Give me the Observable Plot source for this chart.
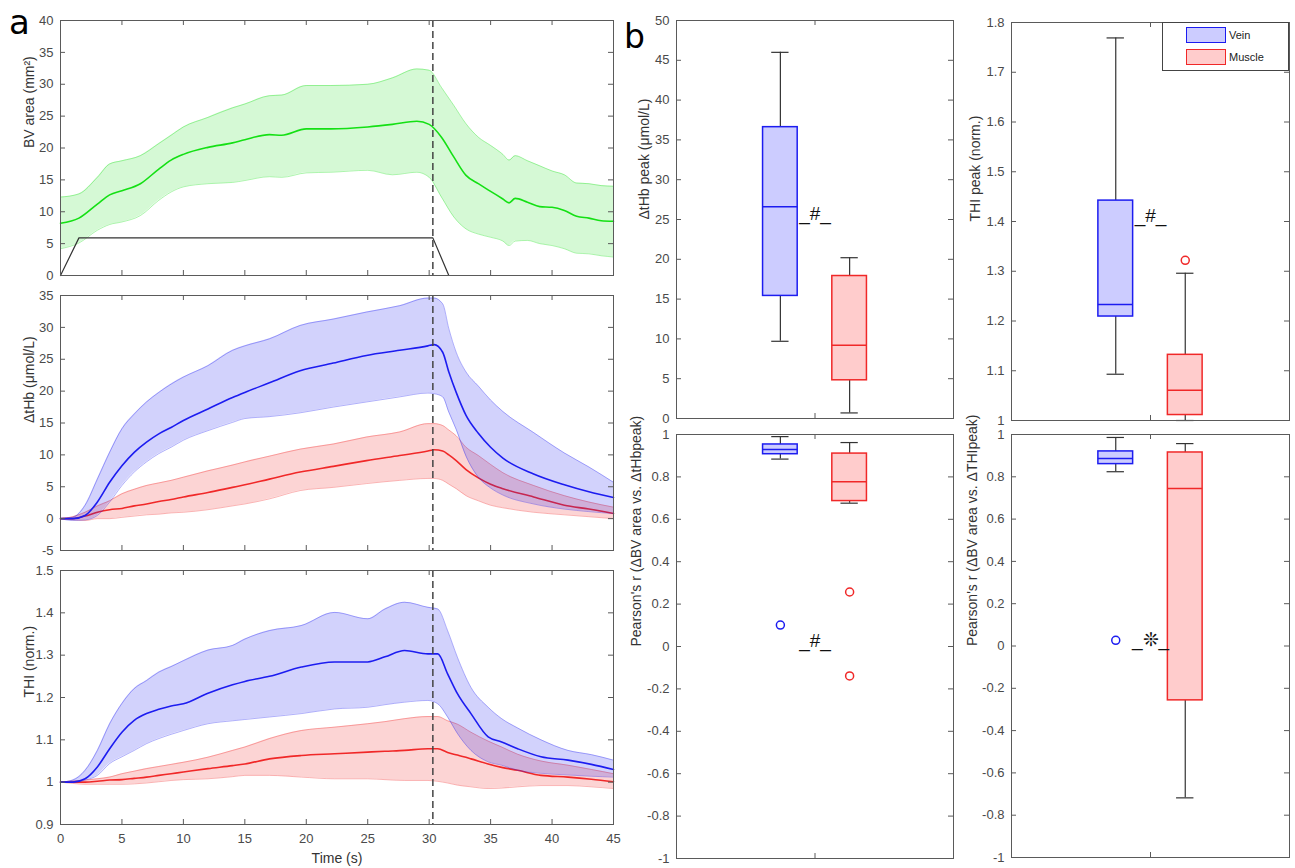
<!DOCTYPE html>
<html><head><meta charset="utf-8">
<script src="https://cdn.jsdelivr.net/npm/d3@7"></script>
<script src="https://cdn.jsdelivr.net/npm/@observablehq/plot@0.6"></script>
<style>
body{margin:0;background:#fff;}
#root{position:relative;width:1295px;height:868px;overflow:hidden;background:#fff;font-family:"Liberation Sans",Arial,sans-serif;}
.p{position:absolute;}
.letter{position:absolute;font-family:"DejaVu Sans",sans-serif;line-height:normal;color:#000;}
</style></head><body><div id="root"></div>
<script>
// ---------------- DATA ----------------
// Panel a, top: BV area (mm^2)
const tBV = [0,1.5,3,4,5,6.5,8,9,10,12,14,15,17,18,20,22,25,27,29,30,31,32,33,34,35,36,36.5,37,38,39,40,41,42,43,44,45];
const bvMean = [8.2,9.0,11.2,12.65,13.3,14.4,16.7,18.1,19.0,20.1,20.8,21.3,22.1,22.0,23.0,23.0,23.3,23.7,24.2,23.7,21.7,18.6,15.7,14.4,13.2,12.0,11.4,12.1,11.5,10.8,10.7,10.2,9.3,9.0,8.6,8.5];
const bvHi = [12.3,12.8,15.4,17.5,18.0,18.8,20.7,22.0,23.3,24.8,26.3,26.9,28.2,28.3,29.8,29.8,30.0,31.0,32.4,32.2,29.5,26.7,23.8,21.7,20.4,19.0,18.1,18.8,18.0,17.2,16.4,15.8,14.5,14.4,14.1,14.0];
const bvLo = [4.2,5.1,7.1,8.0,8.4,9.4,11.8,13.1,13.9,14.4,14.6,14.9,15.5,15.4,16.1,16.2,16.5,15.8,16.2,15.4,12.3,9.2,7.3,6.5,6.0,5.4,4.7,5.4,5.5,5.0,4.7,4.2,3.5,3.4,3.1,2.9];
const stimT = [0,1.5,30.3,31.6];
const stimV = [0,5.9,5.9,0];
const stopTime = 30.3;

// Panel a, middle: ΔtHb (µmol/L)
const tH = [0,1,2,3,4,5,6,7,8,9,10,12,14,15,17,19.5,22.2,24.9,27.6,29.9,30.4,31.1,31.6,32.2,33,34,35,36,38.5,41,43,45];
const veinTHbMean = [0,0,0.5,2.6,5.7,8.3,10.4,12.0,13.3,14.3,15.4,17.2,19.0,19.8,21.3,23.2,24.4,25.6,26.4,27.1,27.3,26.1,23.0,19.8,16.2,13.4,11.2,9.5,7.0,5.3,4.2,3.3];
const veinTHbHi = [0,0.2,2.1,6.2,10.4,14.1,16.4,18.3,19.8,21.1,22.2,24.0,26.4,27.1,28.2,30.3,31.3,32.4,33.4,34.6,34.6,33.7,29.8,26.1,23.0,20.8,18.6,16.8,13.5,10.3,8.1,5.7];
const veinTHbLo = [0,-0.3,-0.2,0.5,2.6,5.2,7.3,8.9,10.2,11.2,12.3,13.8,15.1,15.7,16.0,16.6,17.5,18.3,19.1,19.7,19.6,19.1,16.7,14.0,9.8,6.5,4.8,3.7,2.3,1.5,1.1,0.8];
const muscleTHbMean = [0,0,0.4,1.0,1.4,1.6,2.0,2.3,2.7,3.0,3.4,4.1,4.9,5.3,6.2,7.3,8.2,9.1,9.9,10.6,10.8,10.6,10.0,9.1,7.7,6.4,5.4,4.7,3.4,2.1,1.5,0.8];
const muscleTHbHi = [0,0.3,1.0,2.0,2.8,3.9,4.6,5.2,5.6,6.0,6.5,7.5,8.4,8.9,9.8,10.9,11.7,12.8,13.6,14.9,14.9,14.6,13.9,13.0,11.2,9.9,8.5,7.2,5.2,3.6,2.6,1.8];
const muscleTHbLo = [0,-0.2,-0.3,0,0,0.2,0.4,0.6,0.7,0.9,1.0,1.4,2.0,2.3,3.1,4.4,4.9,5.5,6.0,6.3,6.3,6.0,5.4,4.7,3.6,2.8,2.1,1.7,1.0,0.6,0.3,0.0];

// Panel a, bottom: THI (norm.)
const tT = [0,1,2,3,4,5,6,7,8,9,10,12,14,15,17,19.6,22.3,25,26.4,28,29.9,30.7,31.5,32.3,33.4,34.8,35.9,37.2,39.1,41.3,43.2,45];
const veinTHIMean = [1.0,1.0,1.008,1.036,1.079,1.118,1.146,1.162,1.172,1.180,1.185,1.210,1.230,1.238,1.250,1.272,1.284,1.284,1.296,1.311,1.303,1.303,1.256,1.209,1.162,1.107,1.095,1.079,1.060,1.052,1.042,1.030];
const veinTHIHi = [1.0,1.005,1.028,1.075,1.138,1.186,1.221,1.240,1.260,1.273,1.287,1.312,1.323,1.338,1.358,1.370,1.401,1.386,1.409,1.425,1.413,1.409,1.358,1.295,1.224,1.177,1.150,1.128,1.100,1.075,1.065,1.052];
const veinTHILo = [1.0,1.0,1.005,1.016,1.044,1.060,1.075,1.091,1.103,1.113,1.122,1.138,1.145,1.148,1.154,1.162,1.173,1.177,1.183,1.189,1.193,1.185,1.154,1.115,1.075,1.048,1.040,1.028,1.021,1.017,1.014,1.012];
const muscleTHIMean = [1.0,1.0,1.0,1.002,1.005,1.006,1.009,1.012,1.016,1.020,1.024,1.032,1.039,1.043,1.055,1.063,1.067,1.071,1.073,1.075,1.079,1.079,1.070,1.064,1.055,1.043,1.035,1.028,1.016,1.012,1.007,1.001];
const muscleTHIHi = [1.0,1.003,1.005,1.008,1.012,1.020,1.026,1.032,1.037,1.042,1.047,1.059,1.075,1.083,1.103,1.122,1.130,1.138,1.143,1.150,1.155,1.155,1.145,1.137,1.118,1.097,1.083,1.066,1.050,1.040,1.030,1.020];
const muscleTHILo = [1.0,0.997,0.995,0.995,0.995,0.995,0.996,0.998,1.001,1.004,1.006,1.008,1.013,1.016,1.016,1.012,1.008,1.008,1.006,1.004,1.004,1.002,0.998,0.993,0.989,0.985,0.986,0.989,0.992,0.992,0.989,0.985];

// Panel b: box plots (Vein, Muscle)
const groups = ["Vein","Muscle"];
const thbPeakLo = [9.7,0.7], thbPeakQ1 = [15.4,4.8], thbPeakMed = [26.6,9.2], thbPeakQ3 = [36.6,17.9], thbPeakHi = [46.0,20.2];
const thbPeakOutGroup = [], thbPeakOutVal = [];
const thiPeakLo = [1.093,1.0], thiPeakQ1 = [1.209,1.011], thiPeakMed = [1.233,1.061], thiPeakQ3 = [1.442,1.132], thiPeakHi = [1.769,1.296];
const thiPeakOutGroup = ["Muscle"], thiPeakOutVal = [1.322];
const rThbLo = [0.884,0.676], rThbQ1 = [0.907,0.686], rThbMed = [0.929,0.777], rThbQ3 = [0.953,0.910], rThbHi = [0.990,0.962];
const rThbOutGroup = ["Vein","Muscle","Muscle"], rThbOutVal = [0.101,0.257,-0.139];
const rThiLo = [0.824,-0.718], rThiQ1 = [0.860,-0.257], rThiMed = [0.887,0.745], rThiQ3 = [0.920,0.915], rThiHi = [0.986,0.957];
const rThiOutGroup = ["Vein"], rThiOutVal = [0.027];
const sigMarks = ["_#_","_#_","_#_","_\u274A_"];
const sigLevels = [25, 1.4, 0, 0];

// tick labels
const timeTicks = d3.range(0, 46, 5);
const bvTicks = d3.range(0, 41, 5);
const thbTicks = d3.range(-5, 36, 5);
const thiTicks = [0.9,1.0,1.1,1.2,1.3,1.4,1.5];
const thbPeakTicks = d3.range(0, 51, 5);
const thiPeakTicks = [1.0,1.1,1.2,1.3,1.4,1.5,1.6,1.7,1.8];
const rTicks = [-1,-0.8,-0.6,-0.4,-0.2,0,0.2,0.4,0.6,0.8,1];

// ---------------- STYLE ----------------
const FONT = '"Liberation Sans", Arial, sans-serif';
const AX = "#5a5a5a";
const GREEN = "#14e014", BLUE = "#1c1cf0", RED = "#f02828";
const boxStroke = [BLUE, RED];
const boxFill = ["#ccccff", "#ffcccc"];
const fmt = d => String(+(+d).toFixed(3));
const root = document.getElementById("root");

function place(el, left, top) {
  const d = document.createElement("div");
  d.className = "p"; d.style.left = left + "px"; d.style.top = top + "px";
  d.appendChild(el); root.appendChild(d);
}
function inwardTicks(xt, yt, fw, fh, len = 5) {
  const st = {stroke: AX, strokeWidth: 1};
  const m = [];
  if (yt) {
    m.push(Plot.tickY(yt, {y: d => d, insetRight: fw - len, ...st}));
    m.push(Plot.tickY(yt, {y: d => d, insetLeft: fw - len, ...st}));
  }
  if (xt) {
    m.push(Plot.tickX(xt, {x: d => d, insetTop: fh - len, ...st}));
    m.push(Plot.tickX(xt, {x: d => d, insetBottom: fh - len, ...st}));
  }
  return m;
}
function yLabel(text, dx) {
  return Plot.text([text], {text: d => d, frameAnchor: "left", rotate: -90, dx, fontSize: 14, fill: "#333"});
}
function band(t, lo, hi, mean, color, op) {
  const data = t.map((x, i) => ({t: x, lo: lo[i], hi: hi[i], m: mean[i]}));
  const curve = "monotone-x";
  return [
    Plot.areaY(data, {x: "t", y1: "lo", y2: "hi", fill: color, fillOpacity: op, curve}),
    Plot.line(data, {x: "t", y: "hi", stroke: color, strokeOpacity: 0.35, strokeWidth: 1, curve}),
    Plot.line(data, {x: "t", y: "lo", stroke: color, strokeOpacity: 0.35, strokeWidth: 1, curve}),
    Plot.line(data, {x: "t", y: "m", stroke: color, strokeWidth: 1.6, curve})
  ];
}
const baseStyle = {background: "none", overflow: "visible", fontFamily: FONT, fontSize: "13px", color: "#4a4a4a"};

function timePanel({w, h, ml, mr, mt, mb, yDomain, yTicks, label, series, extra = [], xLabels = false}) {
  const fw = w - ml - mr, fh = h - mt - mb;
  const marks = [
    ...series,
    ...extra,
    Plot.ruleX([stopTime], {stroke: "#444", strokeWidth: 1.5, strokeDasharray: "7,4"}),
    Plot.frame({stroke: AX}),
    ...inwardTicks(timeTicks, yTicks, fw, fh),
    Plot.axisY({ticks: yTicks, tickSize: 0, tickPadding: 7, tickFormat: fmt, label: null}),
    yLabel(label, -31)
  ];
  if (xLabels) {
    marks.push(Plot.axisX({ticks: timeTicks, tickSize: 0, tickPadding: 9, tickFormat: fmt, label: null}));
    marks.push(Plot.text(["Time (s)"], {text: d => d, frameAnchor: "bottom", lineAnchor: "middle", dy: 34, fontSize: 14, fill: "#333"}));
  }
  return Plot.plot({
    width: w, height: h, marginLeft: ml, marginRight: mr, marginTop: mt, marginBottom: mb,
    style: baseStyle,
    x: {domain: [0, 45], axis: xLabels ? undefined : null},
    y: {domain: yDomain},
    marks
  });
}

// Panel a1
const stim = stimT.map((t, i) => ({t, v: stimV[i]}));
place(timePanel({w: 620, h: 280, ml: 60, mr: 7, mt: 20, mb: 5, yDomain: [0, 40], yTicks: bvTicks,
  label: "BV area (mm\u00B2)",
  series: band(tBV, bvLo, bvHi, bvMean, GREEN, 0.18),
  extra: [Plot.line(stim, {x: "t", y: "v", stroke: "#333", strokeWidth: 1.2})]}), 0, 0);

// Panel a2
place(timePanel({w: 620, h: 280, ml: 60, mr: 7, mt: 15, mb: 10, yDomain: [-5, 35], yTicks: thbTicks,
  label: "\u0394tHb (\u03BCmol/L)",
  series: [...band(tH, muscleTHbLo, muscleTHbHi, muscleTHbMean, RED, 0.2), ...band(tH, veinTHbLo, veinTHbHi, veinTHbMean, BLUE, 0.2)]}), 0, 280);

// Panel a3
place(timePanel({w: 620, h: 308, ml: 60, mr: 7, mt: 10, mb: 44, yDomain: [0.9, 1.5], yTicks: thiTicks,
  label: "THI (norm.)", xLabels: true,
  series: [...band(tT, muscleTHILo, muscleTHIHi, muscleTHIMean, RED, 0.2), ...band(tT, veinTHILo, veinTHIHi, veinTHIMean, BLUE, 0.2)]}), 0, 560);

// Box panels
function boxPanel({w, h, ml, mr, mt, mb, lo, q1, med, q3, hi, outG, outV, yDomain, yTicks, label, labelDx, sig, sigY}) {
  const fw = w - ml - mr, fh = h - mt - mb;
  const rows = groups.map((g, i) => ({g, i, p: i + 1.5, lo: lo[i], q1: q1[i], med: med[i], q3: q3[i], hi: hi[i]}));
  const outs = outV.map((v, k) => { const i = groups.indexOf(outG[k]); return {i, p: i + 1.5, v}; });
  const wk = "#333";
  return Plot.plot({
    width: w, height: h, marginLeft: ml, marginRight: mr, marginTop: mt, marginBottom: mb,
    style: baseStyle,
    x: {domain: [0, 4], axis: null},
    y: {domain: yDomain},
    color: {type: "identity"},
    marks: [
      Plot.ruleX(rows, {x: "p", y1: "q3", y2: "hi", stroke: wk, strokeWidth: 1.2}),
      Plot.ruleX(rows, {x: "p", y1: "lo", y2: "q1", stroke: wk, strokeWidth: 1.2}),
      Plot.ruleY(rows, {y: "hi", x1: d => d.p - 0.125, x2: d => d.p + 0.125, stroke: wk, strokeWidth: 1.2}),
      Plot.ruleY(rows, {y: "lo", x1: d => d.p - 0.125, x2: d => d.p + 0.125, stroke: wk, strokeWidth: 1.2}),
      Plot.rect(rows, {x1: d => d.p - 0.25, x2: d => d.p + 0.25, y1: "q1", y2: "q3", fill: d => boxFill[d.i], stroke: d => boxStroke[d.i], strokeWidth: 1.5}),
      Plot.ruleY(rows, {y: "med", x1: d => d.p - 0.25, x2: d => d.p + 0.25, stroke: d => boxStroke[d.i], strokeWidth: 1.5}),
      Plot.dot(outs, {x: "p", y: "v", r: 4, stroke: d => boxStroke[d.i], strokeWidth: 1.5, fill: "none"}),
      Plot.text([{x: 2, y: sigY, s: sig}], {x: "x", y: "y", text: "s", fontSize: 19, lineAnchor: "bottom", dy: 0, fill: "#111", fontFamily: FONT}),
      Plot.frame({stroke: AX}),
      ...inwardTicks([2], yTicks, fw, fh),
      Plot.axisY({ticks: yTicks, tickSize: 0, tickPadding: 7, tickFormat: fmt, label: null}),
      yLabel(label, labelDx)
    ]
  });
}

place(boxPanel({w: 340, h: 425, ml: 56, mr: 7, mt: 20, mb: 7, lo: thbPeakLo, q1: thbPeakQ1, med: thbPeakMed, q3: thbPeakQ3, hi: thbPeakHi,
  outG: thbPeakOutGroup, outV: thbPeakOutVal, yDomain: [0, 50], yTicks: thbPeakTicks,
  label: "\u0394tHb peak (\u03BCmol/L)", labelDx: -32, sig: sigMarks[0], sigY: sigLevels[0]}), 620, 0);
place(boxPanel({w: 335, h: 425, ml: 51, mr: 6, mt: 22, mb: 5, lo: thiPeakLo, q1: thiPeakQ1, med: thiPeakMed, q3: thiPeakQ3, hi: thiPeakHi,
  outG: thiPeakOutGroup, outV: thiPeakOutVal, yDomain: [1, 1.8], yTicks: thiPeakTicks,
  label: "THI peak (norm.)", labelDx: -36, sig: sigMarks[1], sigY: sigLevels[1]}), 960, 0);
place(boxPanel({w: 340, h: 443, ml: 56, mr: 7, mt: 9, mb: 10, lo: rThbLo, q1: rThbQ1, med: rThbMed, q3: rThbQ3, hi: rThbHi,
  outG: rThbOutGroup, outV: rThbOutVal, yDomain: [-1, 1], yTicks: rTicks,
  label: "Pearson's r (\u0394BV area vs. \u0394tHbpeak)", labelDx: -40, sig: sigMarks[2], sigY: sigLevels[2]}), 620, 425);
place(boxPanel({w: 335, h: 443, ml: 51, mr: 6, mt: 9, mb: 11, lo: rThiLo, q1: rThiQ1, med: rThiMed, q3: rThiQ3, hi: rThiHi,
  outG: rThiOutGroup, outV: rThiOutVal, yDomain: [-1, 1], yTicks: rTicks,
  label: "Pearson's r (\u0394BV area vs. \u0394THIpeak)", labelDx: -39, sig: sigMarks[3], sigY: sigLevels[3]}), 960, 425);

// Legend (top-right box panel)
const leg = document.createElement("div");
leg.style.cssText = "position:absolute;left:1162px;top:22px;width:127px;height:49px;box-sizing:border-box;border:1px solid #444;background:#fff;font-family:" + FONT + ";font-size:11px;color:#222;";
groups.forEach((g, i) => {
  const sw = document.createElement("div");
  sw.style.cssText = `position:absolute;left:23px;top:${4 + i * 22}px;width:40px;height:16px;box-sizing:border-box;border:1.5px solid ${boxStroke[i]};background:${boxFill[i]};`;
  const tx = document.createElement("div");
  tx.style.cssText = `position:absolute;left:66px;top:${5 + i * 22}px;line-height:14px;`;
  tx.textContent = g;
  leg.appendChild(sw); leg.appendChild(tx);
});
root.appendChild(leg);

// Panel letters
[["a", 9, 2, 34], ["b", 624, 17, 33]].forEach(([s, x, y, fs]) => {
  const d = document.createElement("div");
  d.className = "letter"; d.textContent = s;
  d.style.left = x + "px"; d.style.top = y + "px"; d.style.fontSize = fs + "px";
  root.appendChild(d);
});
</script>
</body></html>
